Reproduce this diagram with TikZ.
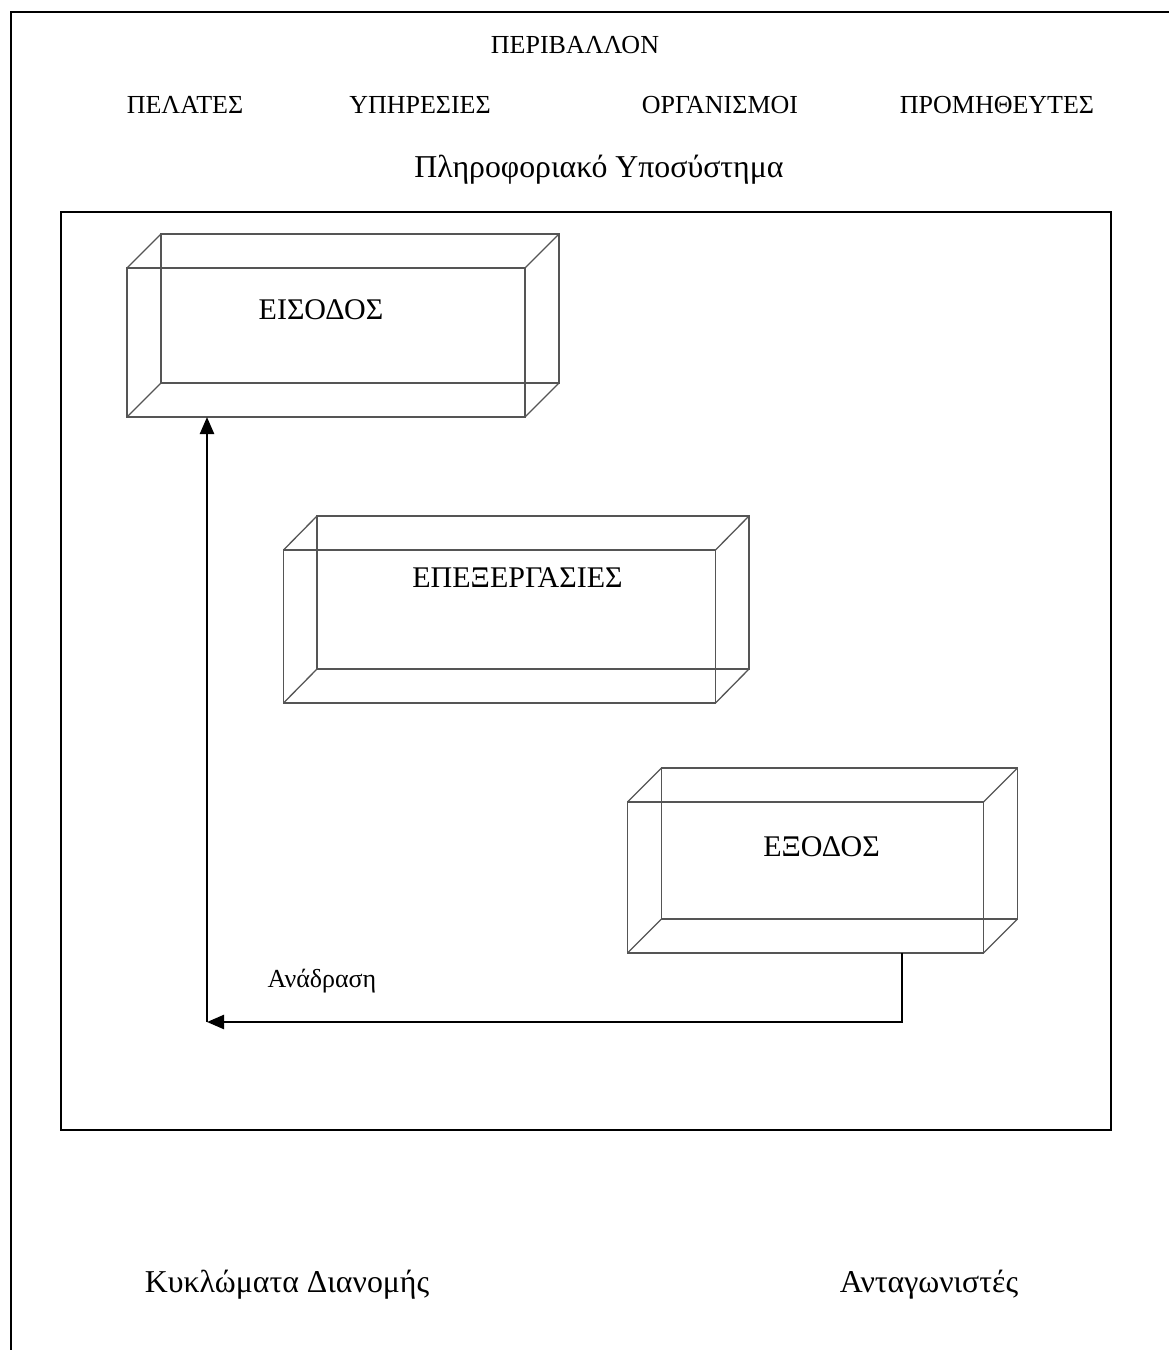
\documentclass[tikz,border=0pt]{standalone}
\usepackage{fontspec}
\setmainfont{Liberation Serif}
\usetikzlibrary{arrows.meta}
\definecolor{boxgray}{RGB}{85,85,85}
\tikzset{
  face/.style={draw=boxgray, line width=1.3pt, inner sep=0pt, outer sep=0pt},
  edge/.style={draw=boxgray, line width=1.3pt},
  frame/.style={draw=black, line width=2.2pt},
  conn/.style={draw=black, line width=2.4pt},
  tip/.style={-{Triangle[length=17pt,width=14pt]}},
  lbl/.style={inner sep=0pt, font=\fontsize{26}{30}\selectfont},
  boxlbl/.style={inner sep=0pt, font=\fontsize{30}{36}\selectfont},
  big/.style={inner sep=0pt, font=\fontsize{31.8}{38}\selectfont},
}
\newcommand{\drawcuboid}[3]{%
  \draw[edge] ([shift={(#2,#3)}]#1.north west) rectangle ([shift={(#2,#3)}]#1.south east);
  \draw[edge] (#1.north west) -- ([shift={(#2,#3)}]#1.north west);
  \draw[edge] (#1.north east) -- ([shift={(#2,#3)}]#1.north east);
  \draw[edge] (#1.south west) -- ([shift={(#2,#3)}]#1.south west);
  \draw[edge] (#1.south east) -- ([shift={(#2,#3)}]#1.south east);
}
\begin{document}
\begin{tikzpicture}[x=1pt,y=-1pt]
\useasboundingbox (0,0) rectangle (1169,1350);
\begin{scope}
  \clip (0,0) rectangle (1169,1350);
  \draw[frame] (11,1400) -- (11,12) -- (1220,12);
\end{scope}

% header texts
\node[lbl] (env) at (575,45) {ΠΕΡΙΒΑΛΛΟΝ};
\node[lbl] (cust) at (185,105) {ΠΕΛΑΤΕΣ};
\node[lbl] (serv) at (420,105) {ΥΠΗΡΕΣΙΕΣ};
\node[lbl] (org) at (720,105) {ΟΡΓΑΝΙΣΜΟΙ};
\node[lbl] (supp) at (997,105) {ΠΡΟΜΗΘΕΥΤΕΣ};
\node[big] (sub) at (599,170) {Πληροφοριακό Υποσύστημα};

% inner rectangle
\node[frame, inner sep=0pt, minimum width=1050pt, minimum height=918pt] (sys) at (586,671) {};

% cuboids
\node[face, minimum width=398pt, minimum height=149pt] (in) at (326,342.5) {};
\drawcuboid{in}{34}{-34}
\node[boxlbl] (inT) at (321,310) {ΕΙΣΟΔΟΣ};

\node[face, minimum width=432pt, minimum height=153pt] (proc) at (499.5,626.5) {};
\drawcuboid{proc}{33.5}{-34}
\node[boxlbl] (procT) at (517.5,577.5) {ΕΠΕΞΕΡΓΑΣΙΕΣ};

\node[face, minimum width=356pt, minimum height=151pt] (out) at (805.5,877.5) {};
\drawcuboid{out}{34}{-34}
\node[boxlbl] (outT) at (821.5,847) {ΕΞΟΔΟΣ};

% feedback
\coordinate (c1) at (902,1022);
\coordinate (c2) at (207,1022);
\draw[conn, tip] (out.south -| c1) -- (c1) -- (c2);
\draw[conn, tip] (c2) -- (in.south -| c2);
\node[lbl] (fb) at (322,981) {Ανάδραση};

% bottom texts
\node[big] (dist) at (287,1285) {Κυκλώματα Διανομής};
\node[big] (comp) at (929,1285) {Ανταγωνιστές};
\end{tikzpicture}
\end{document}
